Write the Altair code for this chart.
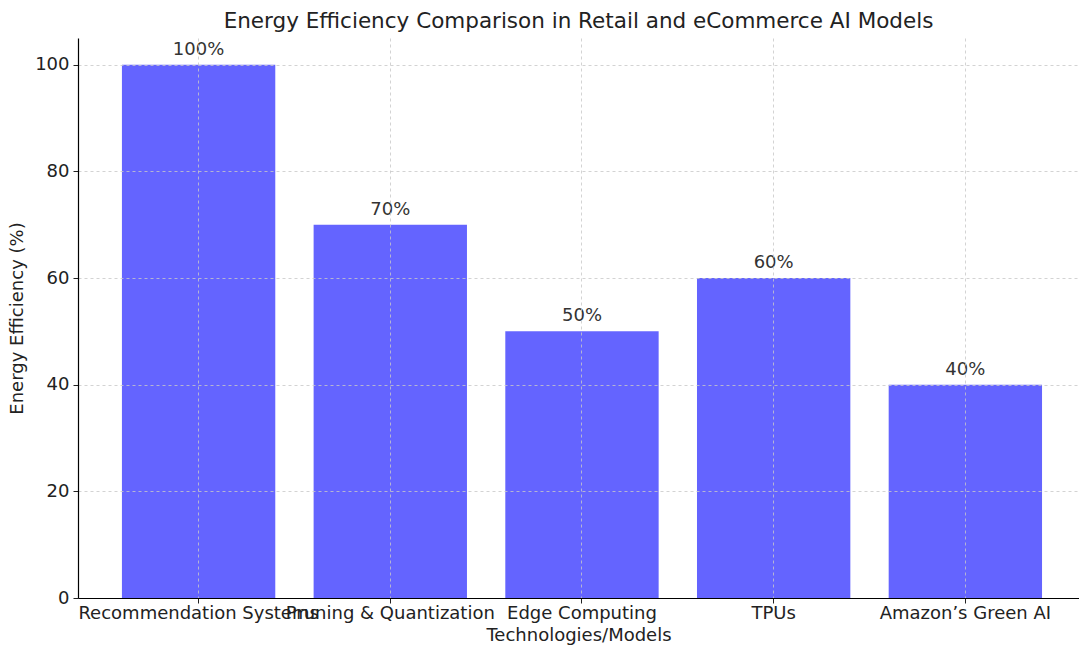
import altair as alt
import pandas as pd

categories = ["Recommendation Systems", "Pruning & Quantization", "Edge Computing", "TPUs", "Amazon’s Green AI"]
values = [100, 70, 50, 60, 40]
labels = ["100%", "70%", "50%", "60%", "40%"]

df = pd.DataFrame({"cat": categories, "val": values, "lab": labels})

FONT = "DejaVu Sans"

x = alt.X("cat:N", sort=categories, title="Technologies/Models",
          scale=alt.Scale(paddingInner=0.2, paddingOuter=0.211, align=0.543),
          axis=alt.Axis(labelAngle=0, labelOverlap=False, labelLimit=0,
                        labelFontSize=18, labelColor="#222222", labelPadding=1,
                        tickSize=5, tickColor="#222222", bandPosition=0.5,
                        domainColor="#000000", domainWidth=1.2,
                        grid=True, gridColor="#c8c8c8", gridDash=[3, 3], gridOpacity=0.8,
                        titleFontSize=18, titleFontWeight="normal", titleColor="#222222",
                        titleBaseline="alphabetic", titleY=42, zindex=1))

bars = alt.Chart(df).mark_bar(color="#6464ff").encode(
    x=x,
    y=alt.Y("val:Q", title="Energy Efficiency (%)",
            scale=alt.Scale(domain=[0, 105], nice=False),
            axis=alt.Axis(values=[0, 20, 40, 60, 80, 100], labelFontSize=18,
                          labelColor="#222222", tickSize=5, tickColor="#222222",
                          labelPadding=4,
                          domainColor="#000000", domainWidth=1.2,
                          grid=True, gridColor="#c8c8c8", gridDash=[3, 3], gridOpacity=0.8,
                          titleFontSize=18, titleFontWeight="normal", titleColor="#222222",
                          titleX=-52, zindex=1)),
)

text = alt.Chart(df).mark_text(fontSize=18, color="#333333", baseline="alphabetic", dy=-10, font=FONT).encode(
    x=alt.X("cat:N", sort=categories),
    y="val:Q",
    text="lab:N",
)

chart = alt.layer(bars, text).properties(
    width=1001,
    height=560,
    title=alt.TitleParams("Energy Efficiency Comparison in Retail and eCommerce AI Models",
                          fontSize=21.5, fontWeight="normal", color="#222222",
                          anchor="middle", offset=6, font=FONT),
    autosize=alt.AutoSizeParams(type="none"),
    padding={"left": 78, "top": 38, "right": 0, "bottom": 47},
).configure(font=FONT).configure_view(stroke=None)

chart.save("out.html", embed_options={"renderer": "svg", "actions": False})
